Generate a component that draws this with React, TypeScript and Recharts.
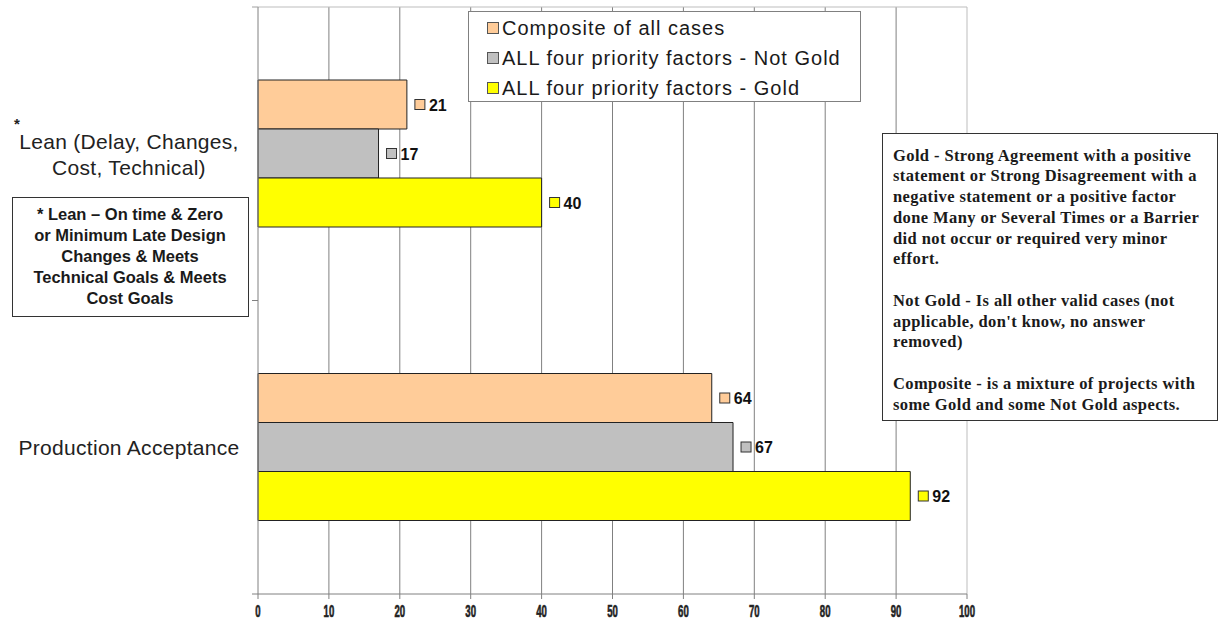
import React from 'react';
import { BarChart, Bar, XAxis, YAxis, CartesianGrid, Legend, LabelList } from 'recharts';

const categories = ['Lean (Delay, Changes, Cost, Technical)', 'Production Acceptance'];
const categoryLines = [['Lean (Delay, Changes,', 'Cost, Technical)'], ['Production Acceptance']];
const seriesKeys = ['composite', 'notGold', 'gold'];
const seriesNames = ['Composite of all cases', 'ALL four priority factors - Not Gold', 'ALL four priority factors - Gold'];
const seriesColors = ['#FFCC99', '#C0C0C0', '#FFFF00'];
const compositeValues = [21, 64];
const notGoldValues = [17, 67];
const goldValues = [40, 92];
const xTicks = [0, 10, 20, 30, 40, 50, 60, 70, 80, 90, 100];

const leanNote = ['* Lean \u2013 On time & Zero', 'or Minimum Late Design', 'Changes & Meets', 'Technical Goals & Meets', 'Cost Goals'];
const goldNote = [
  'Gold - Strong Agreement with a positive',
  'statement or Strong Disagreement with a',
  'negative statement or a positive factor',
  'done Many or Several Times or a Barrier',
  'did not occur or required very minor',
  'effort.',
  '',
  'Not Gold - Is all other valid cases (not',
  "applicable, don't know, no answer",
  'removed)',
  '',
  'Composite - is a mixture of projects with',
  'some Gold and some Not Gold aspects.',
];

const data = categories.map((category, i) => ({
  category,
  composite: compositeValues[i],
  notGold: notGoldValues[i],
  gold: goldValues[i],
}));

const W = 1220;
const H = 624;
const MARGIN = { top: 7, right: 253, bottom: 0, left: 0 };
const Y_AXIS_W = 258;
const X_AXIS_H = 30;
const PLOT_H = H - MARGIN.top - MARGIN.bottom - X_AXIS_H;
const BAND_HALF = PLOT_H / categories.length / 2;

const SANS = '"Liberation Sans", Arial, sans-serif';
const SERIF = '"Liberation Serif", "Times New Roman", serif';

const XTick = (props: any) => {
  const { x, y, payload } = props;
  return (
    <text
      transform={`translate(${x},${y + 16}) scale(0.6,1)`}
      textAnchor="middle"
      fontFamily={SANS}
      fontWeight="bold"
      fontSize={16}
      stroke="#222"
      strokeWidth={0.6}
      fill="#222"
    >
      {payload.value}
    </text>
  );
};

const YTick = (props: any) => {
  const { y, index } = props;
  const lines = categoryLines[index] || [String(props.payload.value)];
  const n = lines.length;
  return (
    <g>
      {index === 0 && (
        <line x1={Y_AXIS_W - 6} x2={Y_AXIS_W} y1={y - BAND_HALF} y2={y - BAND_HALF} stroke="#A0A0A0" />
      )}
      <line x1={Y_AXIS_W - 6} x2={Y_AXIS_W} y1={y + BAND_HALF} y2={y + BAND_HALF} stroke="#808080" />
      {index === 0 && (
        <text x={14} y={y - 25} fontFamily={SANS} fontWeight="bold" fontSize={15} fill="#222">
          *
        </text>
      )}
      {lines.map((line, i) => (
        <text
          key={i}
          x={129}
          y={y + 8 + (i - (n - 1) / 2) * 26}
          textAnchor="middle"
          fontFamily={SANS}
          fontSize={21}
          letterSpacing={0.3}
          fill="#222"
        >
          {line}
        </text>
      ))}
    </g>
  );
};

const makeValueLabel = (color: string) => (props: any) => {
  const { x, y, width, height, value } = props;
  const bx = Number(x) + Number(width) + 8;
  const cy = Number(y) + Number(height) / 2;
  return (
    <g>
      <rect x={bx} y={cy - 5} width={10} height={10} fill={color} stroke="#333" />
      <text x={bx + 14} y={cy + 6} fontFamily={SANS} fontWeight="bold" fontSize={16} fill="#111">
        {value}
      </text>
    </g>
  );
};

const renderLegend = () => (
  <div
    style={{
      boxSizing: 'border-box',
      width: 393,
      height: 91,
      border: '1px solid #808080',
      background: '#fff',
      paddingTop: 1,
      fontFamily: SANS,
      fontSize: 20,
      letterSpacing: 1,
      color: '#1a1a1a',
    }}
  >
    {seriesNames.map((name, i) => (
      <div key={name} style={{ height: 30, display: 'flex', alignItems: 'center', paddingLeft: 18 }}>
        <span
          style={{
            display: 'inline-block',
            width: 12,
            height: 12,
            boxSizing: 'border-box',
            background: seriesColors[i],
            border: '1px solid #555',
            marginRight: 3,
          }}
        />
        <span style={{ whiteSpace: 'nowrap' }}>{name}</span>
      </div>
    ))}
  </div>
);

export default function App() {
  return (
    <div style={{ position: 'relative', width: W, height: H, background: '#fff' }}>
      <style>{'body{margin:0}'}</style>
      <BarChart
        width={W}
        height={H}
        data={data}
        layout="vertical"
        margin={MARGIN}
        barGap={0}
        barSize={49}
      >
        <CartesianGrid horizontal={false} stroke="#808080" verticalValues={xTicks.slice(1, -1)} />
        <CartesianGrid
          stroke="#BDBDBD"
          horizontalCoordinatesGenerator={({ offset }: any) => [offset.top]}
          verticalCoordinatesGenerator={({ offset }: any) => [offset.left + offset.width]}
        />
        <XAxis
          type="number"
          domain={[0, 100]}
          ticks={xTicks}
          height={X_AXIS_H}
          axisLine={{ stroke: '#808080' }}
          tickLine={{ stroke: '#808080' }}
          tickSize={5}
          tick={<XTick />}
          interval={0}
        />
        <YAxis
          type="category"
          dataKey="category"
          width={Y_AXIS_W}
          axisLine={{ stroke: '#808080' }}
          tickLine={false}
          tick={<YTick />}
          interval={0}
        />
        <Legend
          layout="horizontal"
          verticalAlign="middle"
          align="center"
          content={renderLegend}
          wrapperStyle={{ position: 'absolute', left: 468, top: 11, width: 393, height: 91 }}
        />
        {seriesKeys.map((key, i) => (
          <Bar
            key={key}
            dataKey={key}
            name={seriesNames[i]}
            fill={seriesColors[i]}
            stroke="#222"
            strokeWidth={1}
            isAnimationActive={false}
          >
            <LabelList dataKey={key} content={makeValueLabel(seriesColors[i])} />
          </Bar>
        ))}
      </BarChart>
      <svg
        width={W}
        height={H}
        style={{ position: 'absolute', left: 0, top: 0, pointerEvents: 'none' }}
      >
        <rect x={12.5} y={197.5} width={236} height={119} fill="#fff" stroke="#333" />
        {leanNote.map((line, i) => (
          <text
            key={i}
            x={130}
            y={220 + i * 21}
            textAnchor="middle"
            fontFamily={SANS}
            fontWeight="bold"
            fontSize={16.5}
            fill="#1a1a1a"
          >
            {line}
          </text>
        ))}
        <rect x={882.5} y={133.5} width={335} height={287} fill="#fff" stroke="#333" />
        {goldNote.map((line, i) =>
          line ? (
            <text
              key={i}
              x={893}
              y={160.5 + i * 20.75}
              fontFamily={SERIF}
              fontWeight="bold"
              fontSize={16.5}
              letterSpacing={0.4}
              fill="#1a1a1a"
            >
              {line}
            </text>
          ) : null
        )}
      </svg>
    </div>
  );
}
